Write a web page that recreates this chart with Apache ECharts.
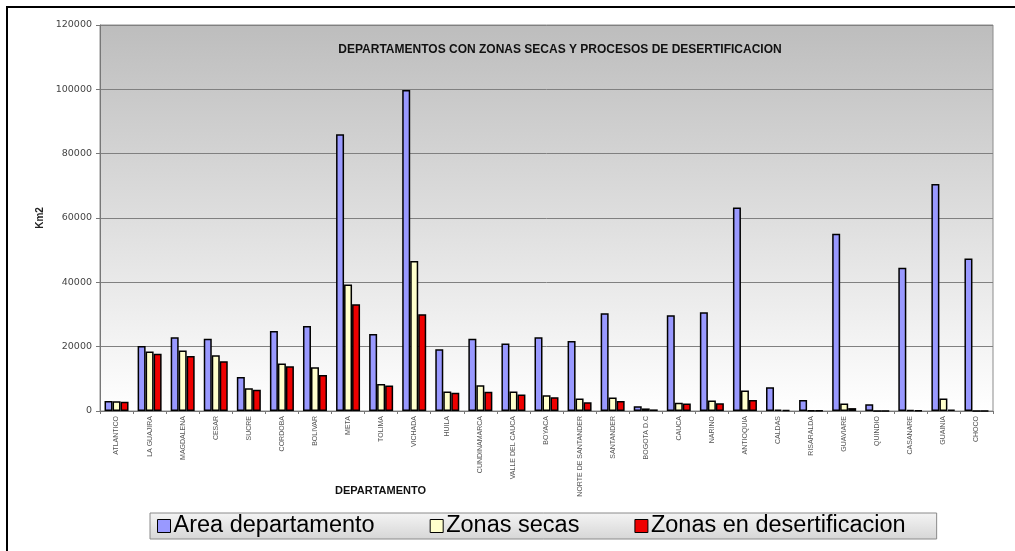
<!DOCTYPE html>
<html>
<head>
<meta charset="utf-8">
<script src="https://cdn.jsdelivr.net/npm/echarts@6/dist/echarts.min.js"></script>
<style>
  html, body { margin: 0; padding: 0; background: #fff; }
  #chart { width: 1015px; height: 551px; }
</style>
</head>
<body>
<div id="chart"></div>
<script>
// departamentos (eje x)
const departamentos = ['ATLANTICO', 'LA GUAJIRA', 'MAGDALENA', 'CESAR', 'SUCRE', 'CORDOBA', 'BOLIVAR', 'META', 'TOLIMA',
  'VICHADA', 'HUILA', 'CUNDINAMARCA', 'VALLE DEL CAUCA', 'BOYACA', 'NORTE DE SANTANDER', 'SANTANDER', 'BOGOTA D.C',
  'CAUCA', 'NARINO', 'ANTIOQUIA', 'CALDAS', 'RISARALDA', 'GUAVIARE', 'QUINDIO', 'CASANARE', 'GUAINIA', 'CHOCO'];

// Km2
const areaDepartamento = [3100, 20200, 22900, 22500, 10600, 24900, 26400, 86000, 23900, 99800, 19200, 22500, 21000, 22900,
  21800, 30400, 1500, 29800, 30700, 63300, 7400, 3400, 55100, 2100, 44500, 70600, 47400];
const zonasSecas = [3000, 18500, 18800, 17300, 7100, 14800, 13600, 39300, 8400, 46600, 6100, 8000, 6100, 4900,
  3900, 4200, 800, 2600, 3300, 6400, 400, 200, 2300, 0, 300, 3900, 0];
const zonasDesertificacion = [2900, 17800, 17100, 15500, 6600, 13900, 11200, 33200, 7900, 30100, 5700, 6000, 5100, 4300,
  2700, 3100, 500, 2300, 2400, 3400, 300, 100, 900, 0, 200, 400, 0];

const yTicks = [0, 20000, 40000, 60000, 80000, 100000, 120000];

const chart = echarts.init(document.getElementById('chart'));

const barStyle = (color) => ({
  color: color,
  borderColor: '#000',
  borderWidth: 1.5,
});

chart.setOption({
  animation: false,
  textStyle: { fontFamily: 'Liberation Sans, Arial, sans-serif' },
  color: ['#9999ff', '#ffffcc', '#ee0000'],
  title: {
    text: 'DEPARTAMENTOS CON ZONAS SECAS Y PROCESOS DE DESERTIFICACION',
    left: 555,
    textAlign: 'center',
    top: 39,
    textStyle: { fontSize: 12, fontWeight: 'bold', color: '#111' },
  },
  legend: {
    left: 150,
    top: 513,
    padding: [1, 31, 1, 7],
    itemGap: 55,
    itemWidth: 13,
    itemHeight: 13,
    icon: 'rect',
    backgroundColor: new echarts.graphic.LinearGradient(0, 0, 0, 1, [
      { offset: 0, color: '#f4f4f4' },
      { offset: 1, color: '#d6d6d6' },
    ]),
    borderColor: '#8a8a8a',
    borderWidth: 1,
    textStyle: { fontSize: 23.5, color: '#000', padding: [0, 0, 0, -2] },
    data: [
      { name: 'Area departamento', itemStyle: { borderColor: '#000', borderWidth: 1 } },
      { name: 'Zonas secas', itemStyle: { borderColor: '#000', borderWidth: 1 } },
      { name: 'Zonas en desertificacion', itemStyle: { borderColor: '#000', borderWidth: 1 } },
    ],
  },
  grid: {
    left: 100,
    right: 22,
    top: 25,
    bottom: 140,
    show: true,
    borderColor: '#8c8c8c',
    borderWidth: 1,
    backgroundColor: new echarts.graphic.LinearGradient(0, 0, 0, 1, [
      { offset: 0, color: '#bdbdbd' },
      { offset: 1, color: '#ffffff' },
    ]),
  },
  xAxis: {
    type: 'category',
    data: departamentos,
    axisLine: { lineStyle: { color: '#777', width: 1 } },
    axisTick: { show: true, length: 3, lineStyle: { color: '#777' } },
    axisLabel: { rotate: 90, fontSize: 7, color: '#555', margin: 5, interval: 0 },
  },
  yAxis: {
    type: 'value',
    min: yTicks[0],
    max: yTicks[yTicks.length - 1],
    interval: 20000,
    name: 'Km2',
    nameLocation: 'middle',
    nameRotate: 90,
    nameGap: 55,
    nameTextStyle: { fontSize: 10, fontWeight: 'bold', color: '#222' },
    axisLine: { show: true, lineStyle: { color: '#777' } },
    axisTick: { show: true, length: 4, lineStyle: { color: '#777' } },
    axisLabel: { fontSize: 9.5, fontFamily: 'DejaVu Sans', color: '#444', margin: 8, formatter: (v) => String(v) },
    splitLine: { lineStyle: { color: '#808080', width: 1 } },
  },
  graphic: [
    {
      type: 'rect',
      shape: { x: 7, y: 7, width: 1030, height: 570 },
      style: { fill: 'none', stroke: '#000', lineWidth: 2 },
      silent: true,
    },
    {
      type: 'text',
      left: 335,
      top: 485,
      style: { text: 'DEPARTAMENTO', fontSize: 11, fontWeight: 'bold', fill: '#111', fontFamily: 'Liberation Sans, Arial, sans-serif' },
    },
  ],
  series: [
    { name: 'Area departamento', type: 'bar', data: areaDepartamento, barWidth: 8, barGap: '0%', itemStyle: barStyle('#9999ff') },
    { name: 'Zonas secas', type: 'bar', data: zonasSecas, barWidth: 8, barGap: '0%', itemStyle: barStyle('#ffffcc') },
    { name: 'Zonas en desertificacion', type: 'bar', data: zonasDesertificacion, barWidth: 8, barGap: '0%', itemStyle: barStyle('#ee0000') },
  ],
});
</script>
</body>
</html>
